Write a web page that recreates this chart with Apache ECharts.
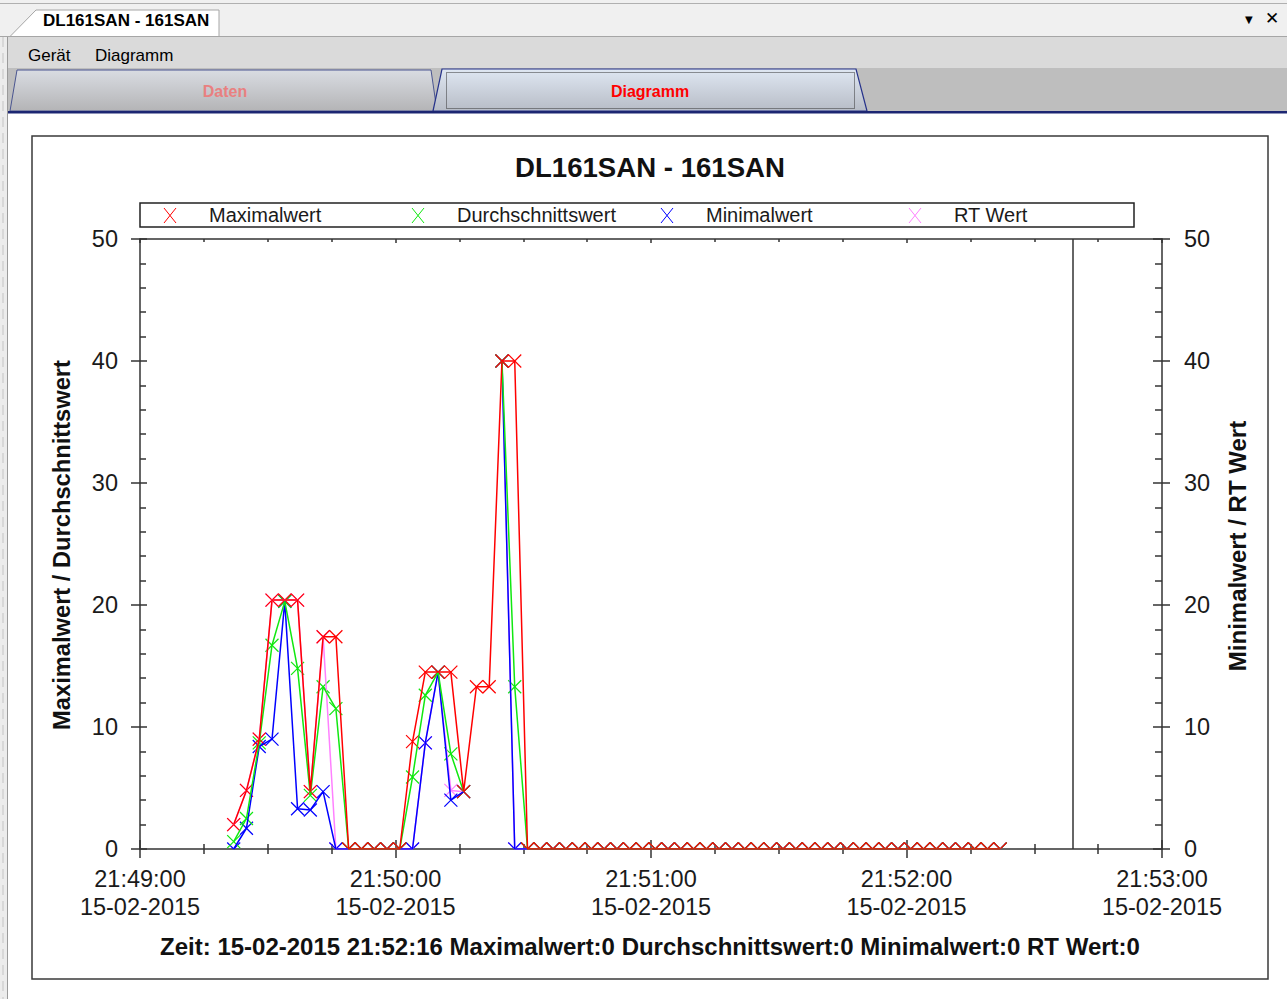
<!DOCTYPE html>
<html>
<head>
<meta charset="utf-8">
<title>DL161SAN - 161SAN</title>
<script src="https://cdn.jsdelivr.net/npm/echarts@6/dist/echarts.min.js"></script>
<style>
  html, body { margin: 0; padding: 0; width: 1287px; height: 999px; overflow: hidden; background: #ffffff; }
  body { position: relative; font-family: "Liberation Sans", Arial, sans-serif; }
  #chrome { position: absolute; left: 0; top: 0; }
  .lbl { position: absolute; white-space: nowrap; line-height: 1; }
  #doctab { left: 43px; top: 12px; font-weight: bold; font-size: 17px; color: #000; }
  #menu1 { left: 28px; top: 47px; font-size: 17px; color: #000; }
  #menu2 { left: 95px; top: 47px; font-size: 17px; color: #000; }
  #tabDaten { left: 0; width: 450px; text-align: center; top: 84px; font-weight: bold; font-size: 16px; color: #e98080; }
  #tabDiagramm { left: 445px; width: 410px; text-align: center; top: 84px; font-weight: bold; font-size: 16px; color: #ff0000; }
  #dropdown { left: 1245px; top: 15px; font-size: 10px; color: #000; font-family: "DejaVu Sans", sans-serif; }
  #closeX { left: 1265px; top: 10px; font-size: 17px; color: #000; font-family: "DejaVu Sans", sans-serif; }
  #chart { position: absolute; left: 0; top: 0; width: 1287px; height: 999px; }
</style>
</head>
<body>
<svg id="chrome" width="1287" height="999" xmlns="http://www.w3.org/2000/svg">
  <defs>
    <linearGradient id="gTab" x1="0" y1="0" x2="0" y2="1">
      <stop offset="0" stop-color="#d9dce2"/>
      <stop offset="1" stop-color="#b4b4b6"/>
    </linearGradient>
    <linearGradient id="gTabSel" x1="0" y1="0" x2="0" y2="1">
      <stop offset="0" stop-color="#dfe7f2"/>
      <stop offset="1" stop-color="#b7bcc6"/>
    </linearGradient>
  </defs>
  <!-- document tab strip -->
  <rect x="0" y="0" width="1287" height="37" fill="#f0f0f0"/>
  <line x1="0" y1="3.5" x2="1287" y2="3.5" stroke="#b0b0b0" stroke-width="1"/>
  <polygon points="10,36.5 36,10 219,10 219,36.5" fill="#ffffff" stroke="#a6a6a6" stroke-width="1"/>
  <line x1="0" y1="36.5" x2="10" y2="36.5" stroke="#a6a6a6" stroke-width="1"/>
  <line x1="219" y1="36.5" x2="1287" y2="36.5" stroke="#a6a6a6" stroke-width="1"/>
  <!-- menu bar -->
  <rect x="8" y="37" width="1279" height="31" fill="#dadada"/>
  <!-- page tabs -->
  <rect x="8" y="68" width="1279" height="44" fill="#bebebe"/>
  <polygon points="10,111 17,70 431,70 437,111" fill="url(#gTab)" stroke="#4a5590" stroke-width="1"/>
  <polygon points="433,111 442,69 856,69 867,111" fill="url(#gTabSel)" stroke="#26328a" stroke-width="1.2"/>
  <rect x="446.5" y="72.5" width="408" height="36" fill="none" stroke="#333" stroke-width="1" stroke-dasharray="1,1"/>
  <rect x="8" y="111" width="1279" height="2.5" fill="#1c2672"/>
  <!-- left frame edge -->
  <rect x="0" y="37" width="7" height="962" fill="#ececec"/>
  <line x1="3" y1="37" x2="3" y2="999" stroke="#c4c4c4" stroke-width="1" stroke-dasharray="10,6"/>
  <line x1="7.5" y1="37" x2="7.5" y2="999" stroke="#9a9a9a" stroke-width="1"/>
  <!-- chart panel frame -->
  <rect x="32" y="136" width="1236" height="843" fill="#ffffff" stroke="#3a3a3a" stroke-width="1.5"/>
</svg>
<div class="lbl" id="doctab">DL161SAN - 161SAN</div>
<div class="lbl" id="menu1">Gerät</div>
<div class="lbl" id="menu2">Diagramm</div>
<div class="lbl" id="tabDaten">Daten</div>
<div class="lbl" id="tabDiagramm">Diagramm</div>
<div class="lbl" id="dropdown">▼</div>
<div class="lbl" id="closeX">✕</div>
<div id="chart"></div>
<script>
// Sample times (one reading every 3 s)
const times = [
  '21:49:22', '21:49:25', '21:49:28', '21:49:31', '21:49:34', '21:49:37', '21:49:40', '21:49:43',
  '21:49:46', '21:49:49', '21:49:52', '21:49:55', '21:49:58', '21:50:01', '21:50:04', '21:50:07',
  '21:50:10', '21:50:13', '21:50:16', '21:50:19', '21:50:22', '21:50:25', '21:50:28', '21:50:31',
  '21:50:34', '21:50:37', '21:50:40', '21:50:43', '21:50:46', '21:50:49', '21:50:52', '21:50:55',
  '21:50:58', '21:51:01', '21:51:04', '21:51:07', '21:51:10', '21:51:13', '21:51:16', '21:51:19',
  '21:51:22', '21:51:25', '21:51:28', '21:51:31', '21:51:34', '21:51:37', '21:51:40', '21:51:43',
  '21:51:46', '21:51:49', '21:51:52', '21:51:55', '21:51:58', '21:52:01', '21:52:04', '21:52:07',
  '21:52:10', '21:52:13', '21:52:16', '21:52:19', '21:52:22'
];

const maximalwert = [
  2.0, 4.8, 9.0, 20.4, 20.4, 20.4, 4.7, 17.4, 17.4, 0, 0, 0, 0, 0, 8.8, 14.5,
  14.5, 14.5, 4.7, 13.3, 13.3, 40, 40, 0, 0, 0, 0, 0, 0, 0, 0, 0,
  0, 0, 0, 0, 0, 0, 0, 0, 0, 0, 0, 0, 0, 0, 0, 0,
  0, 0, 0, 0, 0, 0, 0, 0, 0, 0, 0, 0, 0
];

const durchschnittswert = [
  0.6, 2.5, 8.7, 16.7, 20.3, 14.8, 4.4, 13.3, 11.5, 0, 0, 0, 0, 0, 5.9, 12.6,
  14.5, 7.8, 4.7, null, null, 40, 13.3, 0, 0, 0, 0, 0, 0, 0, 0, 0,
  0, 0, 0, 0, 0, 0, 0, 0, 0, 0, 0, 0, 0, 0, 0, 0,
  0, 0, 0, 0, 0, 0, 0, 0, 0, 0, 0, 0, 0
];

const minimalwert = [
  0, 1.7, 8.4, 9.0, 20.3, 3.3, 3.2, 4.7, 0, 0, 0, 0, 0, 0, 0, 8.7,
  14.5, 4.0, 4.7, null, null, 40, 0, 0, 0, 0, 0, 0, 0, 0, 0, 0,
  0, 0, 0, 0, 0, 0, 0, 0, 0, 0, 0, 0, 0, 0, 0, 0,
  0, 0, 0, 0, 0, 0, 0, 0, 0, 0, 0, 0, 0
];

const rtWert = [
  2.0, 4.8, 9.0, 20.4, 20.4, 20.4, 4.7, 17.4, 0, 0, 0, 0, 0, 0, 0, 8.7,
  14.5, 4.8, 4.7, null, null, 40, 0, 0, 0, 0, 0, 0, 0, 0, 0, 0,
  0, 0, 0, 0, 0, 0, 0, 0, 0, 0, 0, 0, 0, 0, 0, 0,
  0, 0, 0, 0, 0, 0, 0, 0, 0, 0, 0, 0, 0
];

const axisStart = '21:49:00';
const axisEnd = '21:53:00';
const cursorTime = '21:52:39';
const dateText = '15-02-2015';
const yMin = 0, yMax = 50, yStep = 10;

const seriesNames = ['Maximalwert', 'Durchschnittswert', 'Minimalwert', 'RT Wert'];
const titleText = 'DL161SAN - 161SAN';
const leftAxisName = 'Maximalwert / Durchschnittswert';
const rightAxisName = 'Minimalwert / RT Wert';
const statusText = 'Zeit: 15-02-2015 21:52:16 Maximalwert:0 Durchschnittswert:0 Minimalwert:0 RT Wert:0';

const colors = { max: '#ff0000', avg: '#10e810', min: '#0000ff', rt: '#ff80ff' };
const AXIS = '#333333';
const TEXT = '#1a1a1a';
const FONT = '"Liberation Sans", Arial, sans-serif';

function toSec(t) {
  const p = t.split(':').map(Number);
  return p[0] * 3600 + p[1] * 60 + p[2];
}
function pad(n) { return (n < 10 ? '0' : '') + n; }
function fmtTime(sec) {
  const h = Math.floor(sec / 3600), m = Math.floor((sec % 3600) / 60), s = Math.round(sec % 60);
  return pad(h) + ':' + pad(m) + ':' + pad(s);
}

function pairs(values) {
  return times.map((t, i) => [toSec(t), values[i]]);
}

function lineSeries(name, values, color, yIdx) {
  return {
    type: 'line', name: name, xAxisIndex: 0, yAxisIndex: yIdx,
    data: pairs(values), showSymbol: false, symbol: 'none',
    connectNulls: false, clip: true, animation: false,
    lineStyle: { color: color, width: 1.5 }, itemStyle: { color: color },
    emphasis: { disabled: true }
  };
}

// Cross markers drawn on the plot, clipped to the plot area
function markerSeries(name, values, color, yIdx) {
  return {
    type: 'custom', name: name, xAxisIndex: 0, yAxisIndex: yIdx,
    clip: true, animation: false, silent: true,
    data: pairs(values).filter(d => d[1] !== null),
    renderItem: function (params, api) {
      const p = api.coord([api.value(0), api.value(1)]);
      const h = 6.5;
      const st = { stroke: color, lineWidth: 1.2, fill: null };
      return {
        type: 'group',
        children: [
          { type: 'line', shape: { x1: p[0] - h, y1: p[1] - h, x2: p[0] + h, y2: p[1] + h }, style: st },
          { type: 'line', shape: { x1: p[0] + h, y1: p[1] - h, x2: p[0] - h, y2: p[1] + h }, style: st }
        ]
      };
    }
  };
}

const xBase = {
  type: 'value', min: toSec(axisStart), max: toSec(axisEnd), interval: 60,
  gridIndex: 0, splitLine: { show: false }
};
const yBase = {
  type: 'value', min: yMin, max: yMax, interval: yStep,
  gridIndex: 0, splitLine: { show: false }
};
const tickLine = { color: AXIS, width: 1.5 };

const redLine = lineSeries(seriesNames[0], maximalwert, colors.max, 0);
redLine.markLine = {
  silent: true, animation: false, symbol: ['none', 'none'],
  label: { show: false },
  lineStyle: { color: AXIS, width: 1.5, type: 'solid' },
  data: [{ xAxis: toSec(cursorTime) }]
};

// Legend box built from graphic elements
const legendItems = [
  { name: seriesNames[0], color: colors.max, x: 170 },
  { name: seriesNames[1], color: colors.avg, x: 418 },
  { name: seriesNames[2], color: colors.min, x: 667 },
  { name: seriesNames[3], color: colors.rt, x: 915 }
];
const legendGraphics = [
  { type: 'rect', shape: { x: 140, y: 203, width: 994, height: 24 }, style: { fill: null, stroke: '#222', lineWidth: 1.5 }, z: 10 }
];
legendItems.forEach(it => {
  legendGraphics.push({ type: 'line', shape: { x1: it.x - 6, y1: 208, x2: it.x + 6, y2: 223 }, style: { stroke: it.color, lineWidth: 1 }, z: 10 });
  legendGraphics.push({ type: 'line', shape: { x1: it.x + 6, y1: 208, x2: it.x - 6, y2: 223 }, style: { stroke: it.color, lineWidth: 1 }, z: 10 });
  legendGraphics.push({
    type: 'text', x: it.x + 39, y: 215, z: 10,
    style: { text: it.name, font: '20px ' + FONT, fill: TEXT, textAlign: 'left', textVerticalAlign: 'middle', align: 'left', verticalAlign: 'middle' }
  });
});

const chart = echarts.init(document.getElementById('chart'), null, { renderer: 'svg', width: 1287, height: 999 });
chart.setOption({
  backgroundColor: 'transparent',
  animation: false,
  grid: { left: 140, top: 239, width: 1022, height: 610, containLabel: false },
  xAxis: [
    Object.assign({}, xBase, {
      position: 'bottom',
      axisLine: { show: true, onZero: false, lineStyle: tickLine },
      axisTick: { show: true, inside: false, length: 9, lineStyle: tickLine },
      minorTick: { show: true, splitNumber: 4, length: 5, lineStyle: tickLine },
      axisLabel: {
        show: true, margin: 16, color: TEXT, fontSize: 23.5, fontFamily: FONT, lineHeight: 28,
        formatter: v => fmtTime(v) + '\n' + dateText
      }
    }),
    Object.assign({}, xBase, {
      position: 'bottom',
      axisLine: { show: false, onZero: false },
      axisTick: { show: true, inside: true, length: 9, lineStyle: tickLine },
      minorTick: { show: true, splitNumber: 4, length: 5, lineStyle: tickLine },
      axisLabel: { show: false }
    }),
    Object.assign({}, xBase, {
      position: 'top',
      axisLine: { show: true, onZero: false, lineStyle: tickLine },
      axisTick: { show: true, inside: true, length: 4, lineStyle: tickLine },
      minorTick: { show: true, splitNumber: 4, length: 3, lineStyle: tickLine },
      axisLabel: { show: false }
    })
  ],
  yAxis: [
    Object.assign({}, yBase, {
      position: 'left',
      axisLine: { show: true, onZero: false, lineStyle: tickLine },
      axisTick: { show: true, inside: false, length: 9, lineStyle: tickLine },
      minorTick: { show: false },
      axisLabel: { show: true, margin: 22, color: TEXT, fontSize: 23.5, fontFamily: FONT }
    }),
    Object.assign({}, yBase, {
      position: 'right',
      axisLine: { show: true, onZero: false, lineStyle: tickLine },
      axisTick: { show: true, inside: false, length: 8, lineStyle: tickLine },
      minorTick: { show: false },
      axisLabel: { show: true, margin: 22, color: TEXT, fontSize: 23.5, fontFamily: FONT }
    }),
    Object.assign({}, yBase, {
      position: 'left',
      axisLine: { show: false, onZero: false },
      axisTick: { show: true, inside: true, length: 7, lineStyle: tickLine },
      minorTick: { show: true, splitNumber: 5, length: 6, lineStyle: tickLine },
      axisLabel: { show: false }
    }),
    Object.assign({}, yBase, {
      position: 'right',
      axisLine: { show: false, onZero: false },
      axisTick: { show: true, inside: true, length: 9, lineStyle: tickLine },
      minorTick: { show: true, splitNumber: 5, length: 7, lineStyle: tickLine },
      axisLabel: { show: false }
    })
  ],
  series: [
    lineSeries(seriesNames[3], rtWert, colors.rt, 1),
    markerSeries(seriesNames[3], rtWert, colors.rt, 1),
    lineSeries(seriesNames[2], minimalwert, colors.min, 1),
    markerSeries(seriesNames[2], minimalwert, colors.min, 1),
    lineSeries(seriesNames[1], durchschnittswert, colors.avg, 0),
    markerSeries(seriesNames[1], durchschnittswert, colors.avg, 0),
    redLine,
    markerSeries(seriesNames[0], maximalwert, colors.max, 0)
  ],
  graphic: [
    {
      type: 'text', x: 650, y: 167, z: 10,
      style: { text: titleText, font: 'bold 27.6px ' + FONT, fill: '#111', textAlign: 'center', textVerticalAlign: 'middle', align: 'center', verticalAlign: 'middle' }
    },
    {
      type: 'text', x: 62, y: 545, rotation: Math.PI / 2, z: 10,
      style: { text: leftAxisName, font: 'bold 23.7px ' + FONT, fill: '#111', textAlign: 'center', textVerticalAlign: 'middle', align: 'center', verticalAlign: 'middle' }
    },
    {
      type: 'text', x: 1237, y: 546, rotation: Math.PI / 2, z: 10,
      style: { text: rightAxisName, font: 'bold 24px ' + FONT, fill: '#111', textAlign: 'center', textVerticalAlign: 'middle', align: 'center', verticalAlign: 'middle' }
    },
    {
      type: 'text', x: 650, y: 946, z: 10,
      style: { text: statusText, font: 'bold 24px ' + FONT, fill: '#111', textAlign: 'center', textVerticalAlign: 'middle', align: 'center', verticalAlign: 'middle' }
    }
  ].concat(legendGraphics)
});
</script>
</body>
</html>
